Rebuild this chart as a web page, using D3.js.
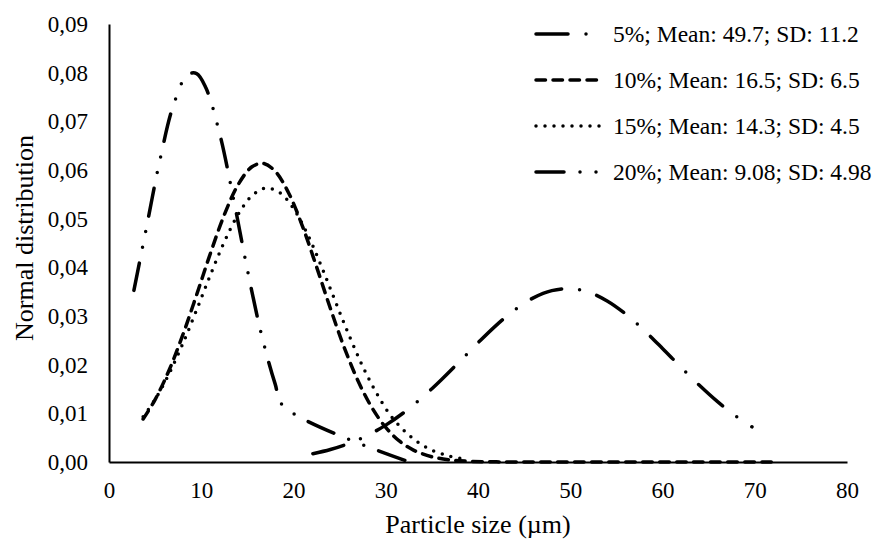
<!DOCTYPE html>
<html>
<head>
<meta charset="utf-8">
<script src="https://cdn.jsdelivr.net/npm/d3@7/dist/d3.min.js"></script>
<style>
  body { margin: 0; background: #fff; }
  text { font-family: "Liberation Serif", "Times New Roman", serif; fill: #000; }
</style>
</head>
<body>
<svg id="chart" width="880" height="542"></svg>
<script>
// series labels (legend)
const seriesLabels = [
  "5%; Mean: 49.7; SD: 11.2",
  "10%; Mean: 16.5; SD: 6.5",
  "15%; Mean: 14.3; SD: 4.5",
  "20%; Mean: 9.08; SD: 4.98"
]

// 5% - particle size and normal distribution values
const size5 = [22.1, 24, 26, 28, 30, 32, 34, 36, 38, 40, 42, 44, 46, 48, 50, 52, 54, 56, 58, 60, 62, 64, 66, 68, 69.7]
const dist5 = [0.0017, 0.00256, 0.0038, 0.00545, 0.00758, 0.01022, 0.01333, 0.01686, 0.02064, 0.02448, 0.02812, 0.03129, 0.03373, 0.03521, 0.03561, 0.03488, 0.03309, 0.03041, 0.02707, 0.02334, 0.01949, 0.01577, 0.01235, 0.00938, 0.00723]

// 10%
const size10 = [3.7, 5, 6.5, 8, 9.5, 11, 12.5, 14, 15.5, 16.7, 18, 19.5, 21, 22.5, 24, 25.5, 27, 28.5, 30, 31.5, 33, 35, 37, 39, 42, 46, 50, 55, 60, 65, 72]
const dist10 = [0.00883, 0.01283, 0.0188, 0.02611, 0.03437, 0.04291, 0.0508, 0.057, 0.06066, 0.06137, 0.05977, 0.05518, 0.0483, 0.04009, 0.03154, 0.02353, 0.01665, 0.01117, 0.0071, 0.00428, 0.00245, 0.00107, 0.00042, 0.00015, 0.00003, 0, 0, 0, 0, 0, 0]

// 15%
const size15 = [3.7, 5, 6.5, 8, 9.5, 11, 12.5, 14, 15.5, 17, 18.5, 20, 21.5, 23, 24.5, 26, 27.5, 29, 30.5, 32, 33.5, 35, 37, 38.5]
const dist15 = [0.0093, 0.01287, 0.01808, 0.02431, 0.03126, 0.03847, 0.04522, 0.05086, 0.05471, 0.05629, 0.05536, 0.05209, 0.04687, 0.04033, 0.03318, 0.02612, 0.01966, 0.01415, 0.0096, 0.00641, 0.00404, 0.00243, 0.00115, 0.0006]

// 20%
const size20 = [2.7, 4, 5.5, 7, 8.5, 9.5, 10.5, 12, 13.5, 15, 16.5, 18, 18.9, 32.6]
const dist20 = [0.03526, 0.04761, 0.06186, 0.07341, 0.07956, 0.07982, 0.0769, 0.06745, 0.05402, 0.03951, 0.0264, 0.01611, 0.01146, 0]

const xTicks = [0, 10, 20, 30, 40, 50, 60, 70, 80]
const yTicks = [0, 0.01, 0.02, 0.03, 0.04, 0.05, 0.06, 0.07, 0.08, 0.09]

const series = [
  {label: seriesLabels[0], xs: size5,  ys: dist5,  dash: "32,18,0,18"},
  {label: seriesLabels[1], xs: size10, ys: dist10, dash: "9.5,7.5"},
  {label: seriesLabels[2], xs: size15, ys: dist15, dash: "0,9"},
  {label: seriesLabels[3], xs: size20, ys: dist20, dash: "28,16,0,16,0,16"}
]

const dimensions = {
  width: 880,
  height: 542,
  margin: {top: 24, right: 33, bottom: 80, left: 109}
}
dimensions.boundedWidth = dimensions.width - dimensions.margin.left - dimensions.margin.right
dimensions.boundedHeight = dimensions.height - dimensions.margin.top - dimensions.margin.bottom

const svg = d3.select("#chart")
const bounds = svg.append("g")
  .attr("transform", `translate(${dimensions.margin.left},${dimensions.margin.top})`)

const x = d3.scaleLinear().domain([0, 80]).range([0, dimensions.boundedWidth])
const y = d3.scaleLinear().domain([0, 0.09]).range([dimensions.boundedHeight, 0])

// axes
const xAxis = bounds.append("g")
  .attr("transform", `translate(0,${dimensions.boundedHeight})`)
  .call(d3.axisBottom(x).tickValues(xTicks).tickSize(0).tickPadding(20))
xAxis.selectAll("text").style("font-size", "23px")

const yAxis = bounds.append("g")
  .call(d3.axisLeft(y).tickValues(yTicks).tickSize(0).tickPadding(21)
    .tickFormat(d => d3.format(".2f")(d).replace(".", ",")))
yAxis.selectAll("text").style("font-size", "23px")

bounds.selectAll(".domain").attr("stroke", "#000").attr("stroke-width", 2)

// curves (smoothed like the spreadsheet lines)
const line = d3.line()
  .x(d => x(d[0]))
  .y(d => y(d[1]))
  .curve(d3.curveCatmullRom.alpha(0.5))

bounds.selectAll(".series")
  .data(series)
  .enter().append("path")
    .attr("class", "series")
    .attr("d", s => line(s.xs.map((v, i) => [v, s.ys[i]])))
    .attr("fill", "none")
    .attr("stroke", "#000")
    .attr("stroke-width", 3.5)
    .attr("stroke-linecap", "round")
    .attr("stroke-dasharray", s => s.dash)

// legend
const legend = svg.append("g").attr("transform", "translate(536,34)")
const rows = legend.selectAll("g")
  .data(series)
  .enter().append("g")
    .attr("transform", (d, i) => `translate(0,${i * 46})`)
rows.append("line")
  .attr("x1", 0).attr("x2", 68)
  .attr("stroke", "#000")
  .attr("stroke-width", 3.5)
  .attr("stroke-linecap", "round")
  .attr("stroke-dasharray", d => d.dash)
rows.append("text")
  .attr("x", 77)
  .attr("dy", "0.35em")
  .style("font-size", "23.5px")
  .text(d => d.label)

// axis titles
svg.append("text")
  .attr("x", dimensions.margin.left + dimensions.boundedWidth / 2)
  .attr("y", 533)
  .attr("text-anchor", "middle")
  .style("font-size", "26px")
  .text("Particle size (µm)")

svg.append("text")
  .attr("transform", `translate(33,${dimensions.margin.top + dimensions.boundedHeight / 2 - 5}) rotate(-90)`)
  .attr("text-anchor", "middle")
  .style("font-size", "26px")
  .text("Normal distribution")
</script>
</body>
</html>
